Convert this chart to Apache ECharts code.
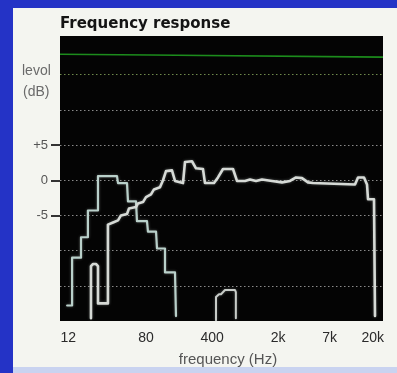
<!DOCTYPE html>
<html><head><meta charset="utf-8">
<script src="https://cdn.jsdelivr.net/npm/echarts@6/dist/echarts.min.js"></script>
<style>
html,body{margin:0;padding:0;}
#wrap{position:relative;width:397px;height:373px;background:#2433c6;overflow:hidden;}
#panel{position:absolute;left:13px;top:8px;width:384px;height:359px;background:#f4f5f0;}
#strip{position:absolute;left:13px;top:367px;width:384px;height:6px;background:#c9d3f0;}
#c{position:absolute;left:0;top:0;width:397px;height:373px;}
</style>
</head><body>
<div id="wrap"><div id="panel"></div><div id="strip"></div><div id="c"></div></div>
<script>
// x tick labels (Hz)
const tickFreqs = [12, 80, 400, 2000, 7000, 20000];
const tickLabels = ['12', '80', '400', '2k', '7k', '20k'];
// y tick labels (dB)
const levelTicks = [5, 0, -5];
const levelTickLabels = ['+5', '0', '-5'];

// low-frequency (bell) curve
const bassFreq = [11.7, 13.2, 13.2, 16.4, 16.4, 19.4, 19.4, 24.8, 24.8, 39.4, 40.4, 50.3, 51.5, 62.6, 64.1, 81.8, 83.8, 102, 104.4, 126.9, 126.9, 161.9, 165.8];
const bassLevel = [-17.8, -17.8, -11.0, -11.0, -8.1, -8.1, -4.3, -4.3, 0.6, 0.6, -0.4, -0.4, -3.0, -3.0, -5.8, -5.8, -7.3, -7.3, -9.7, -9.7, -13.1, -13.1, -19.3];

// main response curve
const mainFreq = [20.9, 20.9, 22.0, 23.6, 24.8, 24.8, 31.6, 31.6, 35.8, 40.4, 43.4, 50.3, 52.8, 62.6, 65.7, 74.2, 79.9, 90.2, 97.0, 112.3, 120.9, 130.0, 150.4, 161.9, 196.7, 206.5, 244.9, 270, 320, 336, 418.6, 461.4, 521.2, 665, 732.9, 890.9, 1006, 1165, 1348, 1719, 2194, 2666, 3086, 3572, 4133, 4669, 12990, 13975, 16170, 17400, 17830, 20630, 21140];
const mainLevel = [-19.6, -12.2, -11.9, -11.9, -12.2, -17.5, -17.5, -6.3, -6.0, -5.7, -5.0, -4.8, -4.0, -3.8, -3.3, -3.1, -2.4, -2.0, -1.3, -1.0, 0, 1.3, 1.4, -0.1, -0.4, 2.6, 2.7, 1.7, 1.6, -0.4, -0.4, 0.4, 1.6, 1.6, -0.1, -0.1, 0.1, -0.1, 0.1, -0.1, -0.3, -0.1, 0.4, 0.3, -0.3, -0.4, -0.6, 0.4, 0.4, -0.6, -2.7, -2.7, -19.3];

// small mid-frequency blip
const midFreq = [439.5, 439.5, 472.9, 496.6, 547.2, 698.2, 713, 713];
const midLevel = [-19.9, -16.6, -16.2, -16.2, -15.6, -15.6, -15.9, -19.6];

// green reference trace near the top
const refFreq = [9.83, 88, 25690];
const refLevel = [17.9, 17.8, 17.5];

const pair = (f, l) => f.map((v, i) => [v, l[i]]);
const xLabel = v => {
  for (let i = 0; i < tickFreqs.length; i++) {
    if (Math.abs(Math.log10(v) - Math.log10(tickFreqs[i])) < 0.005) return tickLabels[i];
  }
  return '';
};
const yLabel = v => {
  const i = levelTicks.indexOf(Math.round(v));
  return i >= 0 ? levelTickLabels[i] : '';
};

const grey = '#8a8a8a';
const chart = echarts.init(document.getElementById('c'), null, {renderer: 'canvas', width: 397, height: 373});
const curveStyle = (color, w) => ({
  type: 'line', showSymbol: false, symbol: 'none', smooth: false, silent: true,
  lineStyle: {color: color, width: w, join: 'round', cap: 'round', shadowBlur: 3, shadowColor: 'rgba(220,230,225,0.35)'}
});
chart.setOption({
  backgroundColor: 'transparent',
  animation: false,
  title: {
    text: 'Frequency response', left: 60, top: 17, padding: 0,
    textStyle: {fontFamily: 'DejaVu Sans', fontWeight: 'bold', fontSize: 15, color: '#141414'}
  },
  grid: {left: 60, top: 36, width: 323, height: 285, show: true, backgroundColor: '#040404', borderWidth: 0},
  xAxis: {
    type: 'log', logBase: 10, min: 9.83, max: 25690,
    axisLine: {show: false}, axisTick: {show: false}, splitLine: {show: false},
    axisLabel: {customValues: tickFreqs, formatter: xLabel, margin: 10, fontFamily: 'Liberation Sans', fontSize: 14, color: '#2a2a2a'},
    name: 'frequency (Hz)', nameLocation: 'middle', nameGap: 31,
    nameTextStyle: {fontFamily: 'Liberation Sans', fontSize: 15, color: '#555', padding: [0, 0, 0, 13]}
  },
  yAxis: [{
    type: 'value', min: -20, max: 20.5, interval: 5,
    axisLine: {show: false}, axisTick: {show: false}, axisLabel: {show: false},
    splitLine: {show: true, showMinLine: true, showMaxLine: true, lineStyle: {
      color: ['transparent', grey, grey, grey, grey, grey, grey, '#6f8a4c', 'transparent', 'transparent'],
      type: [1.5, 2.5], width: 1}}
  }, {
    type: 'value', min: -20, max: 20.5, interval: 5, position: 'left',
    axisLine: {show: false}, splitLine: {show: false},
    axisTick: {show: true, customValues: levelTicks, length: 9, lineStyle: {color: '#333', width: 2}},
    axisLabel: {customValues: levelTicks, formatter: yLabel, margin: 12, fontFamily: 'Liberation Sans', fontSize: 13, color: '#555'}
  }],
  graphic: [
    {type: 'text', left: 22, top: 64, style: {text: 'levol', font: '14px "Liberation Sans"', fill: '#6a6a6a'}},
    {type: 'text', left: 23, top: 85, style: {text: '(dB)', font: '14px "Liberation Sans"', fill: '#6a6a6a'}}
  ],
  series: [
    Object.assign(curveStyle('#1c8c1c', 1.6), {data: pair(refFreq, refLevel), lineStyle: {color: '#1c8c1c', width: 1.6}}),
    Object.assign(curveStyle('#b9d0ca', 2.2), {data: pair(bassFreq, bassLevel)}),
    Object.assign(curveStyle('#d6dad6', 2.6), {data: pair(mainFreq, mainLevel)}),
    Object.assign(curveStyle('#c8ccc8', 2.0), {data: pair(midFreq, midLevel)})
  ]
});
</script>
</body></html>
